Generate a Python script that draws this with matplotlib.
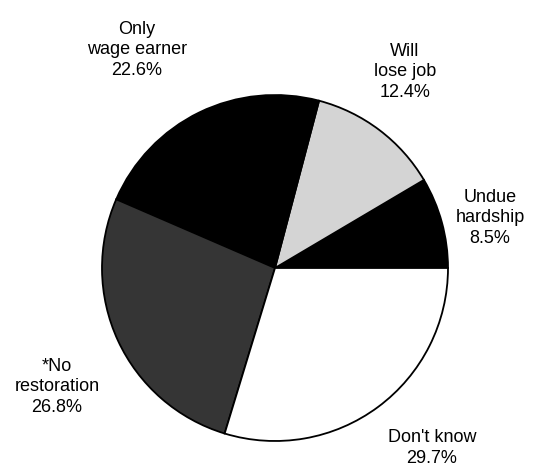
import matplotlib
matplotlib.use("Agg")
import matplotlib.pyplot as plt

categories = ["Undue\nhardship", "Will\nlose job", "Only\nwage earner", "*No\nrestoration", "Don't know"]
values = [8.5, 12.4, 22.6, 26.8, 29.7]
colors = ["#000000", "#d4d4d4", "#000000", "#353535", "#ffffff"]

W, H = 538, 477
fig = plt.figure(figsize=(W / 100, H / 100), dpi=100)
ax = fig.add_axes([0, 0, 1, 1])

cx, cy, r = 275, H - 269, 173
ax.pie(values, colors=colors, startangle=0, counterclock=True,
       center=(cx, cy), radius=r, frame=True,
       wedgeprops=dict(edgecolor="black", linewidth=1.3))
ax.set_xlim(0, W)
ax.set_ylim(0, H)
ax.set_aspect("equal")
ax.axis("off")

label_pos = [(490, 218), (405, 72), (137, 50), (57, 387), (432, 448)]
font = dict(family=["Liberation Sans", "DejaVu Sans"], fontsize=13, color="black",
            ha="center", va="center", linespacing=1.3)
for cat, val, (px, py) in zip(categories, values, label_pos):
    ax.text(px, H - py, f"{cat}\n{val}%", **font)

fig.savefig("out.png", dpi=100)
